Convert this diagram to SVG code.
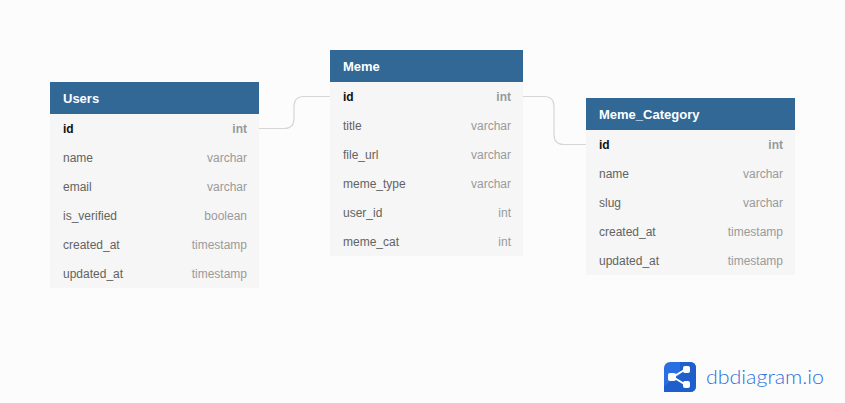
<svg xmlns="http://www.w3.org/2000/svg" width="845" height="403" viewBox="0 0 845 403">
<style>
text{font-family:"Liberation Sans",Arial,sans-serif;font-size:12px}
.body{fill:#f6f6f6}
.head{fill:#316896}
.title{fill:#fff;font-weight:700;font-size:13px}
.f{fill:#636363}
.t{fill:#9a9a9a;text-anchor:end}
.pk{fill:#111;font-weight:700}
.pt{fill:#9a9a9a;font-weight:700;text-anchor:end}
.conn{fill:none;stroke:#d6d6d6;stroke-width:1.2}
</style>
<rect width="845" height="403" fill="#fcfcfc"/>
<g id="connectors">
<path class="conn" d="M259 128.500H284Q294 128.500 294 118.500V106.500Q294 96.500 304 96.500H330"/>
<path class="conn" d="M523 96.500H544Q554 96.500 554 106.500V134.500Q554 144.500 564 144.500H586"/>
</g>
<g id="users">
<rect class="body" x="50" y="114" width="209" height="174"/>
<rect class="head" x="50" y="82" width="209" height="32"/>
<text class="title" x="63" y="103">Users</text>
<text class="pk" x="63" y="133">id</text><text class="pt" x="247" y="133">int</text>
<text class="f" x="63" y="162">name</text><text class="t" x="247" y="162">varchar</text>
<text class="f" x="63" y="191">email</text><text class="t" x="247" y="191">varchar</text>
<text class="f" x="63" y="220">is_verified</text><text class="t" x="247" y="220">boolean</text>
<text class="f" x="63" y="249">created_at</text><text class="t" x="247" y="249">timestamp</text>
<text class="f" x="63" y="278">updated_at</text><text class="t" x="247" y="278">timestamp</text>
</g>
<g id="meme">
<rect class="body" x="330" y="82" width="193" height="174"/>
<rect class="head" x="330" y="50" width="193" height="32"/>
<text class="title" x="343" y="71">Meme</text>
<text class="pk" x="343" y="101">id</text><text class="pt" x="511" y="101">int</text>
<text class="f" x="343" y="130">title</text><text class="t" x="511" y="130">varchar</text>
<text class="f" x="343" y="159">file_url</text><text class="t" x="511" y="159">varchar</text>
<text class="f" x="343" y="188">meme_type</text><text class="t" x="511" y="188">varchar</text>
<text class="f" x="343" y="217">user_id</text><text class="t" x="511" y="217">int</text>
<text class="f" x="343" y="246">meme_cat</text><text class="t" x="511" y="246">int</text>
</g>
<g id="meme_category">
<rect class="body" x="586" y="130" width="209" height="145"/>
<rect class="head" x="586" y="98" width="209" height="32"/>
<text class="title" x="599" y="119">Meme_Category</text>
<text class="pk" x="599" y="149">id</text><text class="pt" x="783" y="149">int</text>
<text class="f" x="599" y="178">name</text><text class="t" x="783" y="178">varchar</text>
<text class="f" x="599" y="207">slug</text><text class="t" x="783" y="207">varchar</text>
<text class="f" x="599" y="236">created_at</text><text class="t" x="783" y="236">timestamp</text>
<text class="f" x="599" y="265">updated_at</text><text class="t" x="783" y="265">timestamp</text>
</g>
<g id="logo">
<rect x="664" y="362" width="32" height="30" rx="6" fill="#2a6fe2"/>
<path d="M680 362H690Q696 362 696 368V386Q696 392 690 392H664V386L680 375Z" fill="#1f5fcc"/>
<path d="M686 369L673 377L686 385" fill="none" stroke="#fff" stroke-width="2"/>
<rect x="668" y="373" width="8" height="8" rx="2" fill="#fff"/>
<rect x="683" y="366" width="7" height="7" rx="2" fill="#fff"/>
<rect x="683" y="381" width="7" height="7" rx="2" fill="#fff"/>
<text x="706" y="384" textLength="118" lengthAdjust="spacingAndGlyphs" style="font-family:Lato,'Noto Sans',sans-serif;font-size:20px;font-weight:300;fill:#2f6fdc">dbdiagram.io</text>
</g>
</svg>
